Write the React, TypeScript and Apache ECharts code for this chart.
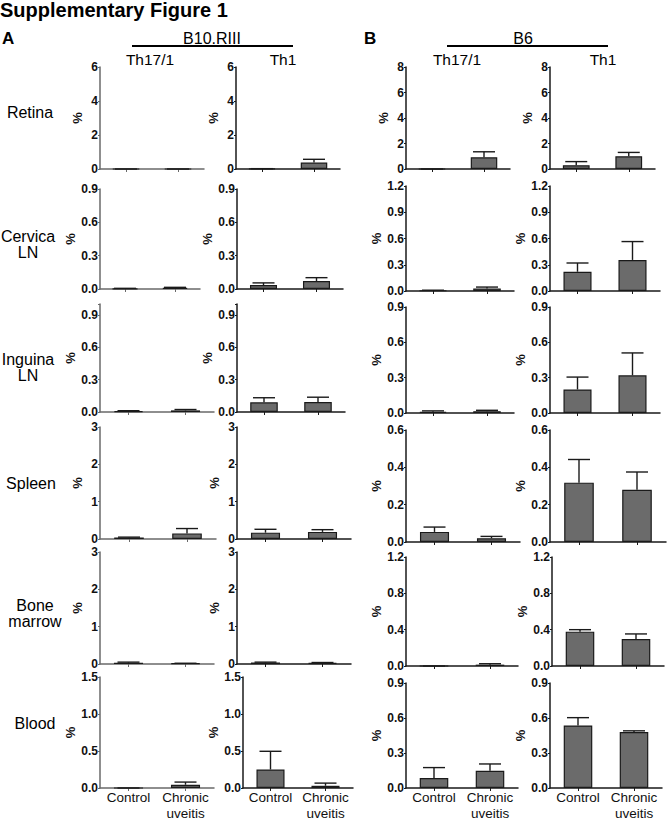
import React, { useEffect, useRef } from "react";
import * as echarts from "echarts";

// ---------- data ----------
const categories = ["Control", "Chronic\nuveitis"];
const columnStrains = ["B10.RIII", "B10.RIII", "B6", "B6"];
const columnSubsets = ["Th17/1", "Th1", "Th17/1", "Th1"];
const rowNames = ["Retina", "Cervica\nLN", "Inguina\nLN", "Spleen", "Bone\nmarrow", "Blood"];

// means per column: [B10.RIII Th17/1, B10.RIII Th1, B6 Th17/1, B6 Th1], each [Control, Chronic uveitis]
const retinaMeans = [[0.0, 0.0], [0.02, 0.38], [0.0, 0.92], [0.3, 1.0]];
const retinaSEM = [[0.0, 0.0], [0.0, 0.19], [0.0, 0.43], [0.28, 0.3]];
const cervicalMeans = [[0.004, 0.01], [0.035, 0.072], [0.006, 0.03], [0.22, 0.355]];
const cervicalSEM = [[0.002, 0.005], [0.02, 0.03], [0.003, 0.015], [0.1, 0.21]];
const inguinalMeans = [[0.008, 0.015], [0.09, 0.092], [0.01, 0.015], [0.2, 0.32]];
const inguinalSEM = [[0.004, 0.008], [0.042, 0.045], [0.008, 0.008], [0.105, 0.19]];
const spleenMeans = [[0.04, 0.15], [0.17, 0.19], [0.054, 0.02], [0.318, 0.28]];
const spleenSEM = [[0.01, 0.13], [0.09, 0.06], [0.026, 0.01], [0.124, 0.095]];
const marrowMeans = [[0.035, 0.015], [0.04, 0.03], [0.0, 0.015], [0.378, 0.298]];
const marrowSEM = [[0.015, 0.005], [0.01, 0.01], [0.0, 0.01], [0.022, 0.055]];
const bloodMeans = [[0.0, 0.044], [0.25, 0.03], [0.086, 0.147], [0.536, 0.48]];
const bloodSEM = [[0.0, 0.036], [0.246, 0.036], [0.089, 0.059], [0.067, 0.01]];

const yMaxA = [6, 0.9, 1.0, 3, 3, 1.5];
const yStepA = [2, 0.3, 0.3, 1, 1, 0.5];
const yMaxB = [8, 1.2, 0.9, 0.6, 1.2, 0.9];
const yStepB = [2, 0.3, 0.3, 0.2, 0.4, 0.3];

const allMeans = [retinaMeans, cervicalMeans, inguinalMeans, spleenMeans, marrowMeans, bloodMeans];
const allSEM = [retinaSEM, cervicalSEM, inguinalSEM, spleenSEM, marrowSEM, bloodSEM];

// ---------- layout ----------
const FONT = '"Liberation Sans", Arial, Helvetica, sans-serif';
const rowLefts = [
  [100, 236, 406, 550],
  [100, 237, 406, 550],
  [100, 237, 406, 550],
  [100, 237, 406, 550],
  [100, 237, 406, 552],
  [100, 243, 406, 550],
];
const rowWidths = [
  [104, 104, 104, 105],
  [100, 106, 108, 110],
  [114, 108, 108, 110],
  [116, 114, 114, 116],
  [114, 114, 112, 112],
  [114, 110, 112, 112],
];
const rowTopA = [67, 189, 304, 427, 552, 677];
const rowBottomA = [169, 289, 412, 539, 664, 792];
const rowTopB = [67, 186, 307, 430, 557, 683];
const rowBottomB = [169, 291, 413, 542, 666, 792];
const rowLabelPos = [
  [30, 112],
  [28, 244],
  [28, 367],
  [31, 483],
  [35, 613],
  [35, 723],
];

export default function App() {
  const ref = useRef<HTMLDivElement>(null);

  useEffect(() => {
    if (!ref.current) return;
    const chart = echarts.init(ref.current, undefined, { renderer: "svg" });

    const grids: any[] = [];
    const xAxes: any[] = [];
    const yAxes: any[] = [];
    const series: any[] = [];

    for (let r = 0; r < 6; r++) {
      for (let c = 0; c < 4; c++) {
        const i = r * 4 + c;
        const isA = c < 2;
        const top = isA ? rowTopA[r] : rowTopB[r];
        const bottom = isA ? rowBottomA[r] : rowBottomB[r];
        const max = isA ? yMaxA[r] : yMaxB[r];
        const step = isA ? yStepA[r] : yStepB[r];
        const dec = step < 1;
        const axisColor = c === 0 ? "#6a6a6a" : "#1a1a1a";
        grids.push({ left: rowLefts[r][c], top, width: rowWidths[r][c], height: bottom - top });
        xAxes.push({
          type: "category",
          gridIndex: i,
          data: categories,
          axisLine: { show: true, lineStyle: { color: axisColor, width: 1.5 } },
          axisTick: { show: true, alignWithLabel: true, length: 3, lineStyle: { color: axisColor, width: 1 } },
          axisLabel: {
            show: r === 5,
            interval: 0,
            fontSize: 13.5,
            lineHeight: 15.5,
            color: "#111",
            fontFamily: FONT,
            margin: 2,
          },
          splitLine: { show: false },
        });
        yAxes.push({
          type: "value",
          gridIndex: i,
          min: 0,
          max,
          interval: step,
          name: "%",
          nameLocation: "middle",
          nameRotate: 90,
          nameGap: dec ? 22 : 16,
          nameTextStyle: { fontFamily: FONT, fontWeight: "bold", fontSize: 13, color: "#111" },
          axisLine: { show: true, lineStyle: { color: axisColor, width: 1.5 } },
          axisTick: { show: true, length: 2, lineStyle: { color: axisColor, width: 1 } },
          axisLabel: {
            fontFamily: FONT,
            fontWeight: "bold",
            fontSize: 12,
            color: "#111",
            margin: 2,
            formatter: (v: number) => {
              const k = v / step;
              if (Math.abs(k - Math.round(k)) > 1e-6) return "";
              return dec ? v.toFixed(1) : String(Math.round(v));
            },
          },
          splitLine: { show: false },
        });
        const means = allMeans[r][c];
        const sems = allSEM[r][c];
        series.push({
          type: "bar",
          xAxisIndex: i,
          yAxisIndex: i,
          data: means,
          barWidth: "51%",
          itemStyle: { color: "#6b6b6b", borderColor: "#1a1a1a", borderWidth: 1.2 },
          z: 2,
        });
        series.push({
          type: "custom",
          xAxisIndex: i,
          yAxisIndex: i,
          z: 3,
          data: means.map((m, k) => [k, m, sems[k]]),
          renderItem: (_p: any, api: any) => {
            const x = api.value(0);
            const m = api.value(1);
            const e = api.value(2);
            const p0 = api.coord([x, m]);
            const p1 = api.coord([x, m + e]);
            const st = { stroke: "#1a1a1a", lineWidth: 1.4 };
            return {
              type: "group",
              children: [
                { type: "line", shape: { x1: p0[0], y1: p0[1], x2: p1[0], y2: p1[1] }, style: st },
                { type: "line", shape: { x1: p1[0] - 11, y1: p1[1], x2: p1[0] + 11, y2: p1[1] }, style: st },
              ],
            };
          },
        });
      }
    }

    const txt = (text: string, x: number, y: number, size: number, bold = false, align = "center", lh?: number) => ({
      type: "text",
      x,
      y,
      style: {
        text,
        fontFamily: FONT,
        fontSize: size,
        fontWeight: bold ? "bold" : "normal",
        fill: "#000",
        align,
        verticalAlign: "middle",
        lineHeight: lh,
      },
    });

    const graphic: any[] = [
      txt("Supplementary Figure 1", 0, 10, 20, true, "left"),
      txt("A", 2, 38, 17, true, "left"),
      txt("B", 364, 38, 17, true, "left"),
      txt(columnStrains[0], 212, 38, 16),
      txt(columnStrains[2], 523, 38, 16),
      { type: "line", shape: { x1: 132, y1: 46, x2: 293, y2: 46 }, style: { stroke: "#000", lineWidth: 2 } },
      { type: "line", shape: { x1: 447, y1: 46, x2: 608, y2: 46 }, style: { stroke: "#000", lineWidth: 2 } },
      txt(columnSubsets[0], 150, 59, 15.5),
      txt(columnSubsets[1], 283, 59, 15.5),
      txt(columnSubsets[2], 457, 59, 15.5),
      txt(columnSubsets[3], 603, 59, 15.5),
    ];
    rowNames.forEach((name, r) => {
      graphic.push(txt(name, rowLabelPos[r][0], rowLabelPos[r][1], 16, false, "center", 16));
    });

    chart.setOption({
      animation: false,
      backgroundColor: "#fff",
      grid: grids,
      xAxis: xAxes,
      yAxis: yAxes,
      series,
      graphic,
    });

    return () => chart.dispose();
  }, []);

  return (
    <div
      ref={ref}
      style={{ position: "absolute", left: 0, top: 0, width: 668, height: 821 }}
    />
  );
}
